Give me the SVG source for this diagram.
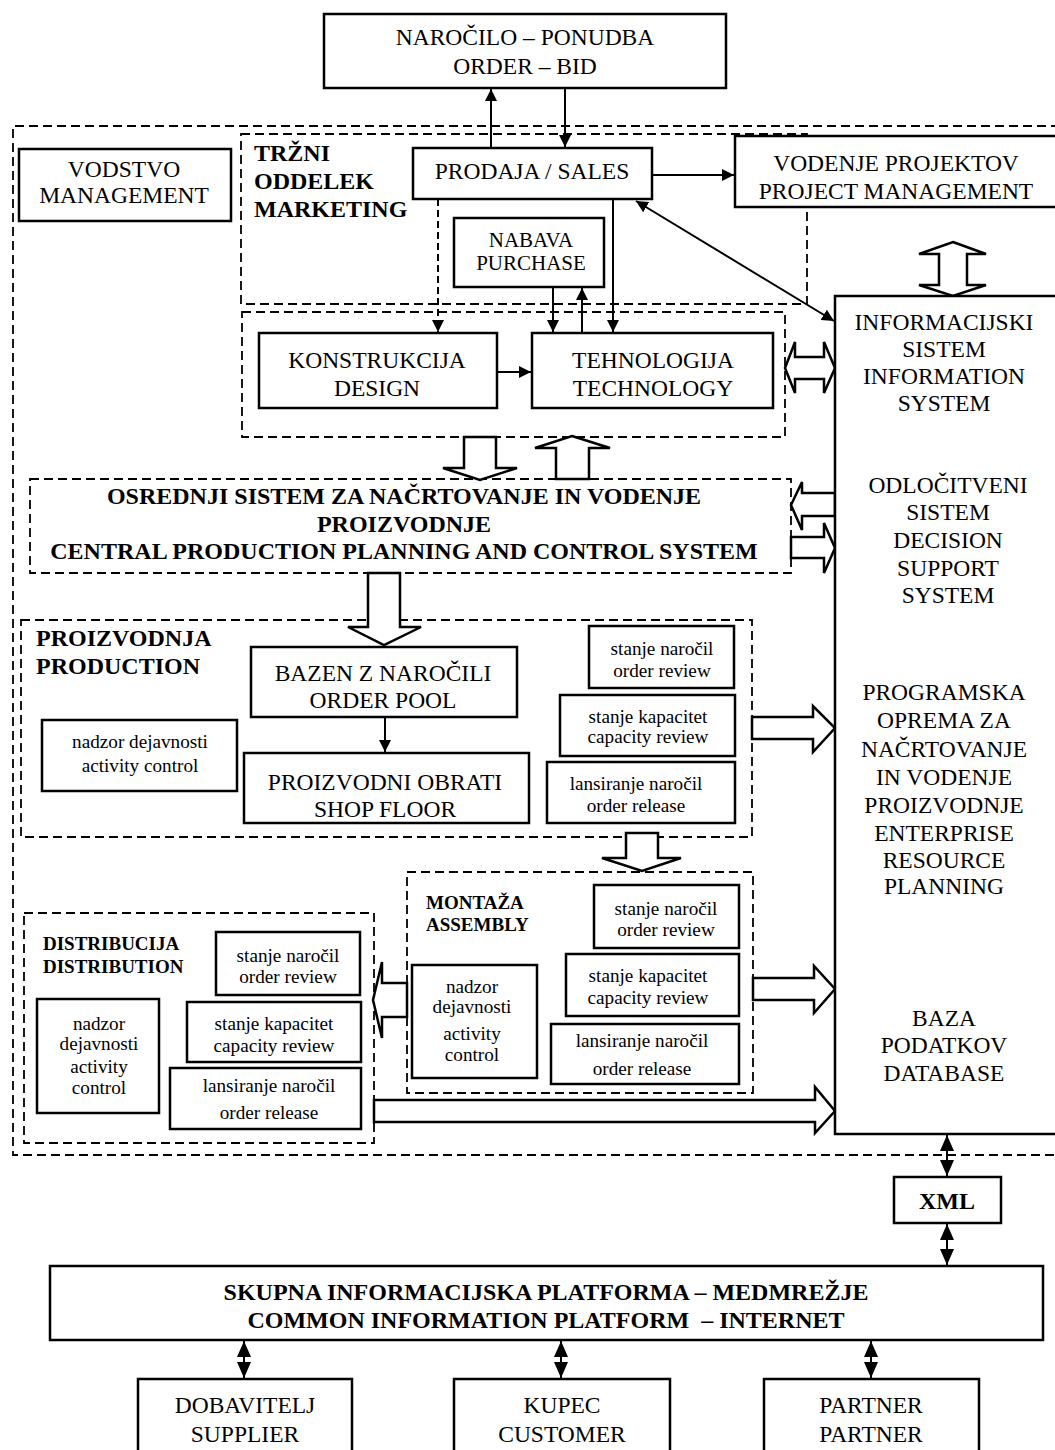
<svg xmlns="http://www.w3.org/2000/svg" width="1055" height="1450" viewBox="0 0 1055 1450" font-family="'Liberation Serif', Tinos, 'Times New Roman', Times, 'DejaVu Serif', 'Noto Serif', serif">
<style>
.box{fill:#fff;stroke:#000;stroke-width:2.5}
.dash{fill:none;stroke:#000;stroke-width:1.8;stroke-dasharray:9 5}
.ha{fill:#fff;stroke:#000;stroke-width:2.5;stroke-linejoin:miter}
.ln{fill:none;stroke:#000;stroke-width:2}
.t{font-family:'Liberation Serif', Tinos, 'Times New Roman', Times, 'DejaVu Serif', 'Noto Serif', serif;font-size:23.5px;text-anchor:middle;fill:#000}
.b{font-weight:bold;font-size:24px}
.s{font-size:19.2px}
.m{font-size:21px}
.l{text-anchor:start}
.sb{font-weight:bold;font-size:19px;text-anchor:start}
</style>
<defs>
<marker id="ah" viewBox="0 0 12 12" refX="12" refY="6" markerWidth="12" markerHeight="12" markerUnits="userSpaceOnUse" orient="auto-start-reverse"><path d="M0,0 L12,6 L0,12 z" fill="#000"/></marker>
<marker id="ahb" viewBox="0 0 16 16" refX="16" refY="8" markerWidth="16" markerHeight="16" markerUnits="userSpaceOnUse" orient="auto-start-reverse"><path d="M0,1 L16,8 L0,15 z" fill="#000"/></marker>
</defs>
<rect width="1055" height="1450" fill="#fff"/>

<g id="containers">
<path class="dash" d="M1060,126 H13 V1155 H1060"/>
<rect class="dash" x="241" y="134" width="566" height="170"/>
<rect class="dash" x="242" y="312" width="543" height="125"/>
<rect class="dash" x="30" y="479" width="761" height="94"/>
<rect class="dash" x="847" y="463" width="202" height="157"/>
<rect class="dash" x="21" y="620" width="731" height="217"/>
<rect class="dash" x="407" y="872" width="346" height="221"/>
<rect class="dash" x="24" y="913" width="350" height="230"/>
</g>

<g id="connectors">
<line class="ln" x1="491" y1="148" x2="491" y2="89" marker-end="url(#ah)"/>
<line class="ln" x1="565" y1="88" x2="565" y2="147" marker-end="url(#ah)"/>
<line class="ln" x1="652" y1="175" x2="734" y2="175" marker-end="url(#ah)"/>
<line class="ln" x1="636" y1="201" x2="834" y2="321" marker-start="url(#ah)" marker-end="url(#ah)"/>
<line class="ln" x1="438" y1="199" x2="438" y2="332" stroke-dasharray="7 4" marker-end="url(#ah)"/>
<line class="ln" x1="613" y1="199" x2="613" y2="332" marker-end="url(#ah)"/>
<line class="ln" x1="553" y1="287" x2="553" y2="332" marker-end="url(#ah)"/>
<line class="ln" x1="582" y1="333" x2="582" y2="288" marker-end="url(#ah)"/>
<line class="ln" x1="497" y1="372" x2="531" y2="372" marker-end="url(#ah)"/>
<line class="ln" x1="385" y1="717" x2="385" y2="752" marker-end="url(#ah)"/>
<line class="ln" x1="947" y1="1135" x2="947" y2="1176" marker-start="url(#ahb)" marker-end="url(#ahb)"/>
<line class="ln" x1="947" y1="1224" x2="947" y2="1265" marker-start="url(#ahb)" marker-end="url(#ahb)"/>
<line class="ln" x1="244" y1="1341" x2="244" y2="1378" marker-start="url(#ahb)" marker-end="url(#ahb)"/>
<line class="ln" x1="561" y1="1341" x2="561" y2="1378" marker-start="url(#ahb)" marker-end="url(#ahb)"/>
<line class="ln" x1="871" y1="1341" x2="871" y2="1378" marker-start="url(#ahb)" marker-end="url(#ahb)"/>
<polygon class="ha" points="953,242 986,254 967,254 967,285 986,285 953,296 919,285 939,285 939,254 919,254"/>
<polygon class="ha" points="785,368 795,342 795,357 824,357 824,342 835,368 824,393 824,379 795,379 795,393"/>
<polygon class="ha" points="464,437 496,437 496,468 517,468 480,480 443,468 464,468"/>
<polygon class="ha" points="572,436 610,448 589,448 589,479 556,479 556,448 535,448"/>
<polygon class="ha" points="791,505 802,482 802,493 835,493 835,516 802,516 802,530"/>
<polygon class="ha" points="791,537 824,537 824,523 835,548 824,573 824,558 791,558"/>
<polygon class="ha" points="368,573 400,573 400,627 421,627 384,645 348,627 368,627"/>
<polygon class="ha" points="752,717 813,717 813,706 835,728 813,752 813,739 752,739"/>
<polygon class="ha" points="626,833 658,833 658,858 681,858 642,871 602,858 626,858"/>
<polygon class="ha" points="753,978 814,978 814,966 835,989 814,1013 814,1000 753,1000"/>
<polygon class="ha" points="374,1100 815,1100 815,1087 835,1111 815,1133 815,1122 374,1122"/>
<polygon class="ha" points="407,983 382,983 382,962 373,1000 382,1038 382,1017 407,1017"/>
</g>

<g id="order-bid"><rect class="box" x="324" y="14" width="402" height="74"/>
<text class="t" x="525" y="45">NAROČILO – PONUDBA</text><text class="t" x="525" y="74">ORDER – BID</text></g>

<g id="management"><rect class="box" x="19" y="149" width="212" height="72"/>
<text class="t" x="124" y="177">VODSTVO</text><text class="t" x="124" y="203">MANAGEMENT</text></g>

<g id="marketing"><text class="t b l" x="254" y="161">TRŽNI</text><text class="t b l" x="254" y="189">ODDELEK</text><text class="t b l" x="254" y="217">MARKETING</text></g>

<g id="sales"><rect class="box" x="413" y="148" width="239" height="51"/>
<text class="t" x="532" y="179">PRODAJA / SALES</text></g>

<g id="project-mgmt"><rect class="box" x="735" y="136" width="330" height="71"/>
<text class="t" x="896" y="171">VODENJE PROJEKTOV</text><text class="t" x="896" y="199">PROJECT MANAGEMENT</text></g>

<g id="purchase"><rect class="box" x="454" y="218" width="150" height="69"/>
<text class="t m" x="531" y="247">NABAVA</text><text class="t m" x="531" y="270">PURCHASE</text></g>

<g id="design"><rect class="box" x="259" y="333" width="238" height="75"/>
<text class="t" x="377" y="368">KONSTRUKCIJA</text><text class="t" x="377" y="396">DESIGN</text></g>

<g id="technology"><rect class="box" x="532" y="333" width="241" height="75"/>
<text class="t" x="653" y="368">TEHNOLOGIJA</text><text class="t" x="653" y="396">TECHNOLOGY</text></g>

<g id="central-planning">
<text class="t b" x="404" y="504">OSREDNJI SISTEM ZA NAČRTOVANJE IN VODENJE</text>
<text class="t b" x="404" y="532">PROIZVODNJE</text>
<text class="t b" x="404" y="559">CENTRAL PRODUCTION PLANNING AND CONTROL SYSTEM</text></g>

<g id="info-system"><rect class="box" x="835" y="296" width="230" height="838"/>
<text class="t" x="944" y="330">INFORMACIJSKI</text><text class="t" x="944" y="357">SISTEM</text><text class="t" x="944" y="384">INFORMATION</text><text class="t" x="944" y="411">SYSTEM</text>
<text class="t" x="944" y="700">PROGRAMSKA</text><text class="t" x="944" y="728">OPREMA ZA</text><text class="t" x="944" y="757">NAČRTOVANJE</text><text class="t" x="944" y="785">IN VODENJE</text><text class="t" x="944" y="813">PROIZVODNJE</text><text class="t" x="944" y="841">ENTERPRISE</text><text class="t" x="944" y="868">RESOURCE</text><text class="t" x="944" y="894">PLANNING</text>
<text class="t" x="944" y="1026">BAZA</text><text class="t" x="944" y="1053">PODATKOV</text><text class="t" x="944" y="1081">DATABASE</text></g>

<g id="decision-support">
<text class="t" x="948" y="493">ODLOČITVENI</text><text class="t" x="948" y="520">SISTEM</text><text class="t" x="948" y="548">DECISION</text><text class="t" x="948" y="576">SUPPORT</text><text class="t" x="948" y="603">SYSTEM</text></g>

<g id="production"><text class="t b l" x="36" y="646">PROIZVODNJA</text><text class="t b l" x="36" y="674">PRODUCTION</text></g>

<g id="order-pool"><rect class="box" x="251" y="647" width="266" height="70"/>
<text class="t" x="383" y="681">BAZEN Z NAROČILI</text><text class="t" x="383" y="708">ORDER POOL</text></g>

<g id="shop-floor"><rect class="box" x="244" y="753" width="285" height="70"/>
<text class="t" x="385" y="790">PROIZVODNI OBRATI</text><text class="t" x="385" y="817">SHOP FLOOR</text></g>

<g id="prod-activity"><rect class="box" x="42" y="720" width="195" height="71"/>
<text class="t s" x="140" y="748">nadzor dejavnosti</text><text class="t s" x="140" y="772">activity control</text></g>

<g id="prod-order-review"><rect class="box" x="589" y="626" width="145" height="62"/>
<text class="t s" x="662" y="655">stanje naročil</text><text class="t s" x="662" y="677">order review</text></g>
<g id="prod-capacity"><rect class="box" x="560" y="695" width="175" height="61"/>
<text class="t s" x="648" y="723">stanje kapacitet</text><text class="t s" x="648" y="743">capacity review</text></g>
<g id="prod-release"><rect class="box" x="547" y="762" width="188" height="61"/>
<text class="t s" x="636" y="790">lansiranje naročil</text><text class="t s" x="636" y="812">order release</text></g>

<g id="assembly"><text class="t sb" x="426" y="909">MONTAŽA</text><text class="t sb" x="426" y="931">ASSEMBLY</text></g>
<g id="asm-activity"><rect class="box" x="412" y="965" width="125" height="113"/>
<text class="t s" x="472" y="993">nadzor</text><text class="t s" x="472" y="1013">dejavnosti</text><text class="t s" x="472" y="1040">activity</text><text class="t s" x="472" y="1061">control</text></g>
<g id="asm-order-review"><rect class="box" x="594" y="885" width="145" height="63"/>
<text class="t s" x="666" y="915">stanje naročil</text><text class="t s" x="666" y="936">order review</text></g>
<g id="asm-capacity"><rect class="box" x="566" y="954" width="173" height="62"/>
<text class="t s" x="648" y="982">stanje kapacitet</text><text class="t s" x="648" y="1004">capacity review</text></g>
<g id="asm-release"><rect class="box" x="551" y="1024" width="188" height="60"/>
<text class="t s" x="642" y="1047">lansiranje naročil</text><text class="t s" x="642" y="1075">order release</text></g>

<g id="distribution"><text class="t sb" x="43" y="950">DISTRIBUCIJA</text><text class="t sb" x="43" y="973">DISTRIBUTION</text></g>
<g id="dist-activity"><rect class="box" x="37" y="999" width="122" height="114"/>
<text class="t s" x="99" y="1030">nadzor</text><text class="t s" x="99" y="1050">dejavnosti</text><text class="t s" x="99" y="1073">activity</text><text class="t s" x="99" y="1094">control</text></g>
<g id="dist-order-review"><rect class="box" x="216" y="932" width="144" height="63"/>
<text class="t s" x="288" y="962">stanje naročil</text><text class="t s" x="288" y="983">order review</text></g>
<g id="dist-capacity"><rect class="box" x="187" y="1002" width="174" height="60"/>
<text class="t s" x="274" y="1030">stanje kapacitet</text><text class="t s" x="274" y="1052">capacity review</text></g>
<g id="dist-release"><rect class="box" x="170" y="1068" width="191" height="61"/>
<text class="t s" x="269" y="1092">lansiranje naročil</text><text class="t s" x="269" y="1119">order release</text></g>

<g id="xml"><rect class="box" x="894" y="1177" width="107" height="46"/>
<text class="t b" x="947" y="1209">XML</text></g>

<g id="platform"><rect class="box" x="50" y="1266" width="993" height="74"/>
<text class="t b" x="546" y="1300">SKUPNA INFORMACIJSKA PLATFORMA – MEDMREŽJE</text>
<text class="t b" x="546" y="1328" xml:space="preserve">COMMON INFORMATION PLATFORM  – INTERNET</text></g>

<g id="supplier"><rect class="box" x="138" y="1379" width="214" height="80"/>
<text class="t" x="245" y="1413">DOBAVITELJ</text><text class="t" x="245" y="1442">SUPPLIER</text></g>
<g id="customer"><rect class="box" x="454" y="1379" width="216" height="80"/>
<text class="t" x="562" y="1413">KUPEC</text><text class="t" x="562" y="1442">CUSTOMER</text></g>
<g id="partner"><rect class="box" x="764" y="1379" width="215" height="80"/>
<text class="t" x="871" y="1413">PARTNER</text><text class="t" x="871" y="1442">PARTNER</text></g>
</svg>
